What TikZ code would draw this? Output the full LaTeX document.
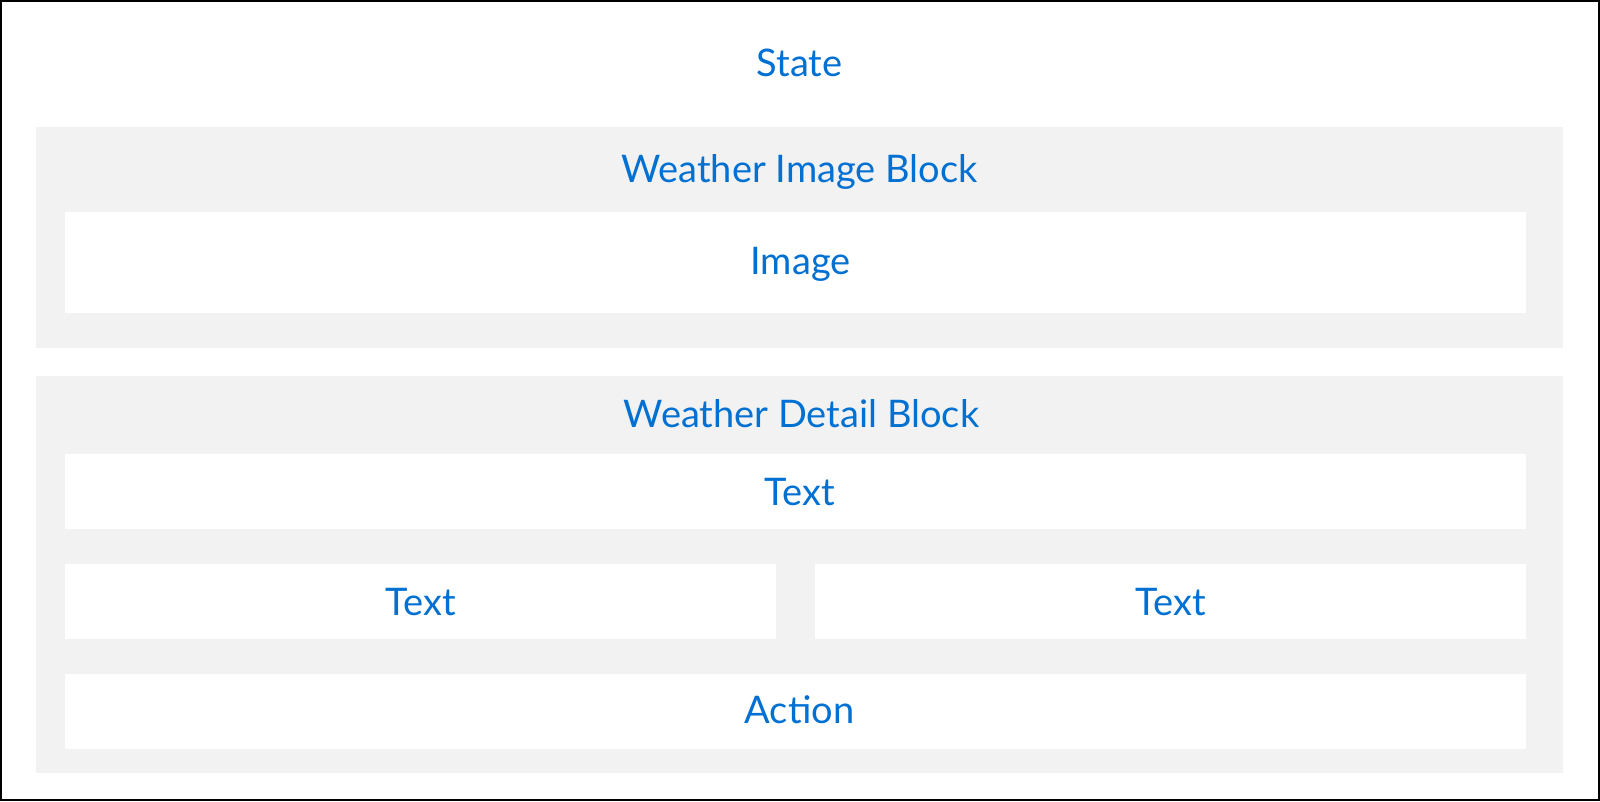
\documentclass[tikz,border=0pt]{standalone}
\usepackage{fontspec}
\setmainfont{Lato}
\definecolor{sfblue}{HTML}{0070D2}
\definecolor{blockgray}{HTML}{F3F2F2}
\tikzset{
  lbl/.style={anchor=base, text=sfblue, inner sep=0pt, font=\fontsize{38}{44}\selectfont},
}
\begin{document}
\begin{tikzpicture}[x=1pt, y=-1pt]
\useasboundingbox (0,0) rectangle (1600,801);
% Frame
\draw[black, line width=2pt] (1,1) rectangle (1599,800);
\node[lbl] (state) at (799.5,76) {State};

% Weather image block
\fill[blockgray] (36,127) rectangle (1563,348);
\fill[white] (65,212) rectangle (1526,313);
\node[lbl] (imgblock) at (799.5,182) {Weather Image Block};
\node[lbl] (img) at (800.5,274) {Image};

% Weather detail block
\fill[blockgray] (36,376) rectangle (1563,773);
\fill[white] (65,454) rectangle (1526,529);
\fill[white] (65,564) rectangle (776,639);
\fill[white] (815,564) rectangle (1526,639);
\fill[white] (65,674) rectangle (1526,749);
\node[lbl] (detblock) at (801.5,427) {Weather Detail Block};
\node[lbl] (txt) at (799.5,505) {Text};
\node[lbl] (txtl) at (420.5,615) {Text};
\node[lbl] (txtr) at (1170.5,615) {Text};
\node[lbl] (act) at (799.5,723) {Action};
\end{tikzpicture}
\end{document}
